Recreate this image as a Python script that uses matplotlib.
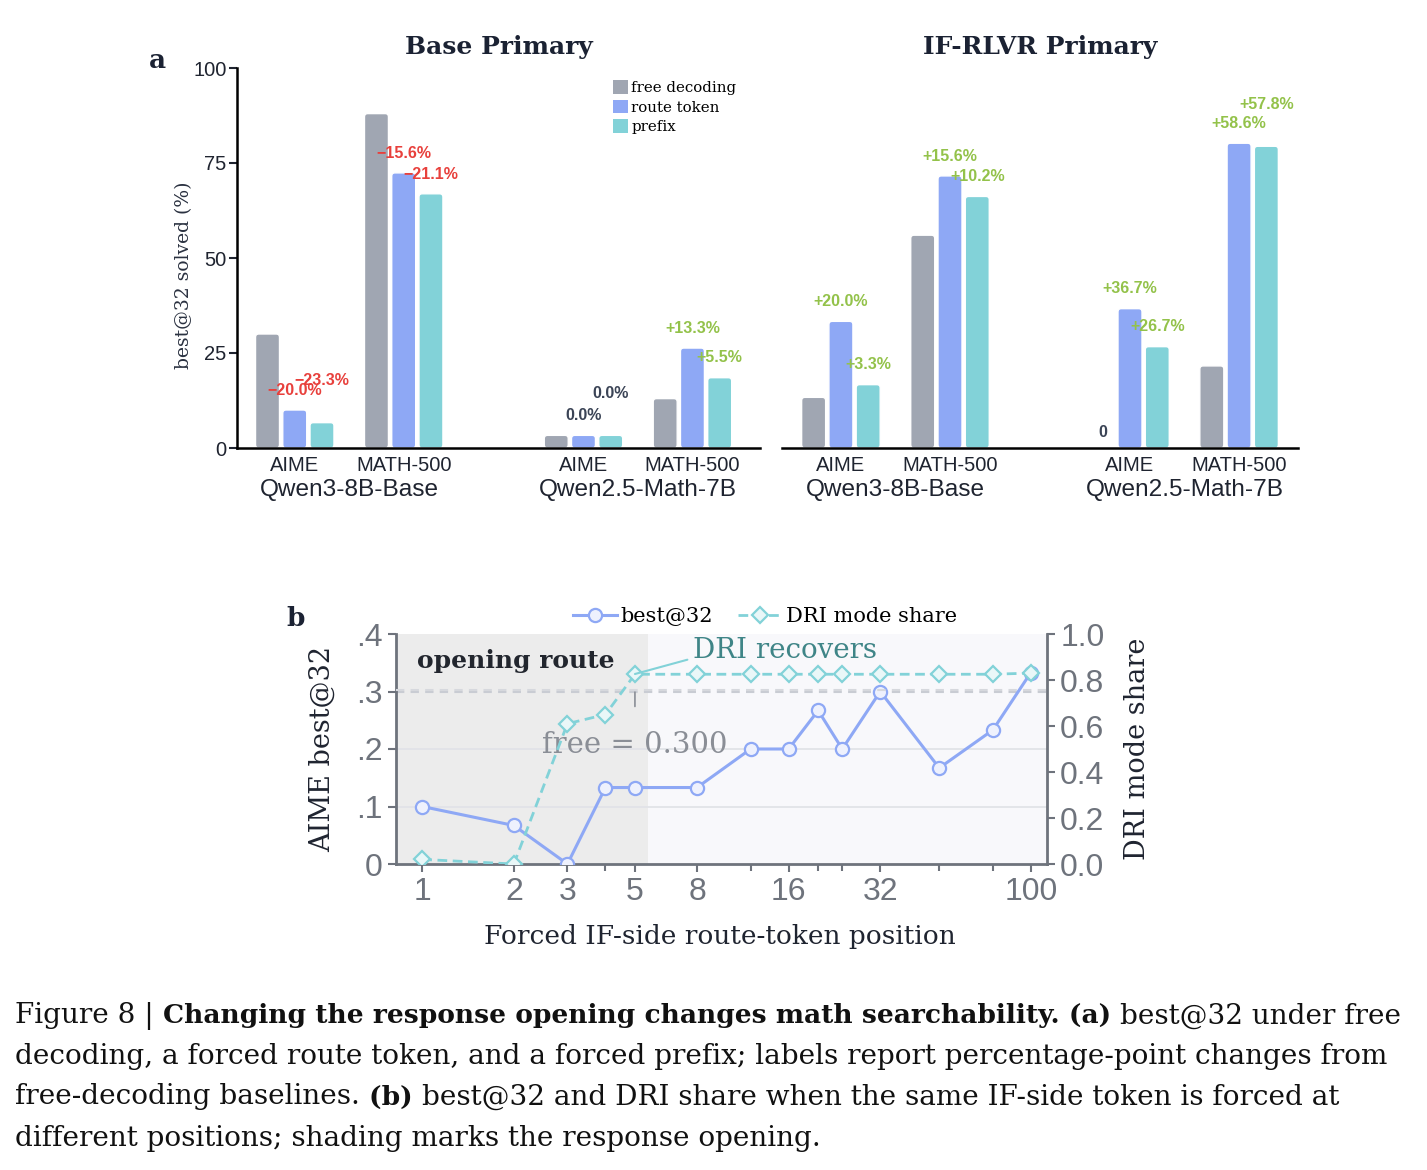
import matplotlib
matplotlib.use('Agg')
import matplotlib.pyplot as plt
from matplotlib.patches import FancyBboxPatch, Patch
from matplotlib.transforms import IdentityTransform
import numpy as np

SERIF = 'DejaVu Serif'
SANS = 'Liberation Sans'

# ---- panel a data ----
models = ['Qwen3-8B-Base', 'Qwen2.5-Math-7B']
benchmarks = ['AIME', 'MATH-500']
conditions = ['free decoding', 'route token', 'prefix']
# order: Qwen3 AIME, Qwen3 MATH-500, Qwen2.5 AIME, Qwen2.5 MATH-500
base_free = [30.0, 88.0, 3.33, 13.0]
base_route = [10.0, 72.4, 3.33, 26.3]
base_prefix = [6.67, 66.9, 3.33, 18.5]
iflr_free = [13.33, 56.0, 0.0, 21.6]
iflr_route = [33.33, 71.6, 36.67, 80.2]
iflr_prefix = [16.67, 66.2, 26.67, 79.4]

# ---- panel b data ----
positions = [1, 2, 3, 4, 5, 8, 12, 16, 20, 24, 32, 50, 75, 100]
best32 = [0.100, 0.067, 0.0, 0.133, 0.133, 0.133, 0.200, 0.200, 0.267, 0.200, 0.300, 0.167, 0.233, 0.333]
dri_share = [0.02, 0.0, 0.61, 0.65, 0.825, 0.825, 0.825, 0.825, 0.825, 0.825, 0.825, 0.825, 0.825, 0.83]
free_best32 = 0.300
free_dri = 0.757
labeled_ticks = [1, 2, 3, 5, 8, 16, 32, 100]
opening_end = 5.5

GRAY = '#a0a6b2'
BLUE = '#8ea8f5'
TEAL = '#82d2d8'
RED = '#e8403c'
GREEN = '#93c24a'
DARK = '#3b4456'
AXGRAY = '#6e737c'

W, H = 1427, 1170
fig = plt.figure(figsize=(W / 100, H / 100), dpi=100)


def px_axes(x0, y0, x1, y1):
    return fig.add_axes([x0 / W, 1 - y1 / H, (x1 - x0) / W, (y1 - y0) / H])


group_x = np.array([0, 1, 2.65, 3.65])
bar_colors = [GRAY, BLUE, TEAL]


def draw_panel(ax, free, route, prefix, title, xlim):
    ax.set_xlim(*xlim)
    ax.set_ylim(0, 100)
    pos = ax.get_position()
    asp = (100 / (pos.height * H)) / ((xlim[1] - xlim[0]) / (pos.width * W))
    step, width = 0.25, 0.22
    for k, vals in enumerate([free, route, prefix]):
        bars = ax.bar(group_x + (k - 1) * step, vals, width, color=bar_colors[k])
        for b in bars:
            b.set_visible(False)
            if b.get_height() <= 0:
                continue
            ax.add_patch(FancyBboxPatch((b.get_x(), 0), b.get_width(), b.get_height(),
                                        boxstyle='round,pad=0,rounding_size=0.03',
                                        mutation_aspect=asp, fc=bar_colors[k],
                                        ec='white', lw=1.0, zorder=2))
    # change labels vs free decoding
    for i in range(4):
        if free[i] == 0:
            ax.text(group_x[i] - step, 4.2, '0', ha='center', va='center',
                    fontsize=11.5, fontweight='bold', family=SANS, color=DARK)
        for k, vals in [(1, route), (2, prefix)]:
            d = vals[i] - free[i]
            y = vals[i] + 5.2
            if k == 2 and abs(route[i] - prefix[i]) < 5:
                y = prefix[i] + 11
            if abs(d) < 0.05:
                s, c = '0.0%', DARK
            else:
                s = f'{d:+.1f}%'.replace('-', '\u2212')
                c = RED if d < 0 else GREEN
            ax.text(group_x[i] + (k - 1) * step, y, s, ha='center', va='center',
                    fontsize=11.5, fontweight='bold', family=SANS, color=c, zorder=3)
    ax.set_xticks(group_x)
    ax.set_xticklabels(benchmarks * 2, fontsize=14.5, family=SANS, color='#1f2430')
    ax.tick_params(axis='x', length=0, pad=6)
    for j, m in enumerate(models):
        ax.text(group_x[2 * j:2 * j + 2].mean(), -0.11, m, transform=ax.get_xaxis_transform(),
                ha='center', va='center', fontsize=17.6, family=SANS, color='#1f2430')
    ax.text(0.5, 1 + 21 / 380, title, transform=ax.transAxes, ha='center', va='center',
            fontsize=18, fontweight='bold', family=SERIF, color='#1b2233')
    for s in ['top', 'right']:
        ax.spines[s].set_visible(False)
    ax.spines['bottom'].set_linewidth(1.8)
    ax.spines['left'].set_linewidth(1.8)
    ax.set_facecolor('none')


axL = px_axes(237, 68, 760, 448)
draw_panel(axL, base_free, base_route, base_prefix, 'Base Primary', (-0.53, 4.27))
axL.set_yticks([0, 25, 50, 75, 100])
axL.tick_params(axis='y', labelsize=14.5, length=6, width=1.5, colors='#1f2430', pad=1.5)
for t in axL.get_yticklabels():
    t.set_family(SANS)
axL.set_ylabel('best@32 solved (%)', family=SERIF, fontsize=13.5, color='#2a3140')
axL.yaxis.set_label_coords(-0.084, 0.455)
handles = [Patch(fc=c, ec='none') for c in bar_colors]
axL.legend(handles, conditions, loc='upper left', bbox_to_anchor=(0.698, 0.995), frameon=False,
           prop={'family': SERIF, 'size': 10.8}, handlelength=1.0, handleheight=1.0,
           handletextpad=0.25, labelspacing=0.3, borderpad=0.2)

axR = px_axes(782, 68, 1298, 448)
draw_panel(axR, iflr_free, iflr_route, iflr_prefix, 'IF-RLVR Primary', (-0.54, 4.19))
axR.spines['left'].set_visible(False)
axR.set_yticks([])

fig.text(157 / W, 1 - 60 / H, 'a', fontsize=19, fontweight='bold', family=SERIF,
         ha='center', va='center', color='#1b2233')
fig.text(296 / W, 1 - 618 / H, 'b', fontsize=19, fontweight='bold', family=SERIF,
         ha='center', va='center', color='#1b2233')

# ---- panel b ----
ax = px_axes(396, 634, 1047, 864)
ax2 = ax.twinx()
ax.set_xscale('log')
ax.set_xlim(0.82, 113)
ax.set_ylim(0, 0.4)
ax2.set_ylim(0, 1.0)
ax.set_facecolor('#f8f8fb')
ax.axvspan(0.82, opening_end, color='#ececec', lw=0, zorder=0)
for g in [0.1, 0.2]:
    ax.axhline(g, color='#e1e3e8', lw=1.3, zorder=1)
ax.axhline(free_best32, color='#c9ccd3', lw=1.5, ls=(0, (4, 3)), zorder=1)
ax2.axhline(free_dri, color='#d6d8dd', lw=1.5, ls=(0, (4, 3)), zorder=1)

l1, = ax.plot(positions, best32, color=BLUE, lw=2.2, marker='o', ms=9.5,
              mfc='#eef1fd', mec=BLUE, mew=1.6, zorder=3, label='best@32')
l2, = ax2.plot(positions, dri_share, color=TEAL, lw=2.0, ls=(0, (3.5, 2)), marker='D', ms=8,
               mfc='#e9f7f8', mec=TEAL, mew=1.6, zorder=3, label='DRI mode share')

ax.set_xticks(labeled_ticks)
ax.set_xticklabels([str(v) for v in labeled_ticks])
ax.set_xticks([p for p in positions if p not in labeled_ticks], minor=True)
ax.xaxis.set_minor_formatter(plt.NullFormatter())
ax.set_yticks([0, 0.1, 0.2, 0.3, 0.4])
ax.set_yticklabels(['0', '.1', '.2', '.3', '.4'])
ax2.set_yticks([0, 0.2, 0.4, 0.6, 0.8, 1.0])
ax2.set_yticklabels(['0.0', '0.2', '0.4', '0.6', '0.8', '1.0'])
for a in (ax, ax2):
    a.tick_params(which='both', labelsize=23, colors=AXGRAY, width=1.5, length=6)
    a.tick_params(which='minor', length=5)
    for t in a.get_xticklabels() + a.get_yticklabels():
        t.set_family(SANS)
    for s in a.spines.values():
        s.set_color(AXGRAY)
        s.set_linewidth(2)
    a.spines['top'].set_visible(False)
ax2.spines['left'].set_visible(False)
ax2.spines['bottom'].set_visible(False)
ax.spines['right'].set_visible(False)

ax.set_xlabel('Forced IF-side route-token position', family=SERIF, fontsize=19, color='#1f2430')
ax.xaxis.set_label_coords(0.498, -0.262)
ax.set_ylabel('AIME best@32', family=SERIF, fontsize=19.5, color='#1f2430')
ax.yaxis.set_label_coords(-0.093, 0.5)
ax2.set_ylabel('DRI mode share', family=SERIF, fontsize=19.5, color='#1f2430', rotation=90)
ax2.yaxis.set_label_coords(1.118, 0.5)

ax.text(0.963, 0.353, 'opening route', ha='left', va='center', fontsize=18,
        fontweight='bold', family=SERIF, color='#22262e', zorder=4)
ax2.annotate('DRI recovers', xy=(5.0, 0.826), xytext=(7.75, 0.93), ha='left', va='center',
             fontsize=20, family=SERIF, color='#3f8587', zorder=4,
             arrowprops=dict(arrowstyle='-', color=TEAL, lw=1.5, relpos=(0, 0.2),
                             shrinkA=2, shrinkB=0))
ax.text(5.0, 0.207, 'free = 0.300', ha='center', va='center', fontsize=21, family=SERIF,
        color='#8a8e96', zorder=4)
ax.annotate('', xy=(5.0, 0.299), xytext=(5.0, 0.274),
            arrowprops=dict(arrowstyle='-', color='#8a8e96', lw=1.2, shrinkA=0, shrinkB=0))
ax.legend([l1, l2], ['best@32', 'DRI mode share'], loc='center', bbox_to_anchor=(0.567, 1.075),
          ncol=2, frameon=False, prop={'family': SERIF, 'size': 15}, handlelength=2.1,
          handletextpad=0.2, columnspacing=1.2)

# ---- caption ----
caption = [
    [('Figure 8 | ', 'normal'), ('Changing the response opening changes math searchability. (a) ', 'bold'),
     ('best@32 under free', 'normal')],
    [('decoding, a forced route token, and a forced prefix; labels report percentage-point changes from',
      'normal')],
    [('free-decoding baselines. ', 'normal'), ('(b) ', 'bold'),
     ('best@32 and DRI share when the same IF-side token is forced at', 'normal')],
    [('different positions; shading marks the response opening.', 'normal')],
]
line_y = [1016, 1057, 1097, 1138]
renderer = fig.canvas.get_renderer()


def text_w(s, size, weight):
    t = fig.text(0, 0, s, fontsize=size, fontweight=weight, family=SERIF, transform=IdentityTransform())
    w = t.get_window_extent(renderer).width
    t.remove()
    return w


probe = 20
cap_size = probe * 1371 / text_w(caption[1][0][0], probe, 'normal')
bold_size = cap_size * 0.95
for runs, yy in zip(caption, line_y):
    x = 15
    for s, wt in runs:
        sz = bold_size if wt == 'bold' else cap_size
        fig.text(x, H - yy, s, fontsize=sz, fontweight=wt, family=SERIF, ha='left', va='center',
                 color='#111111', transform=IdentityTransform())
        core = s.rstrip(' ')
        n_sp = len(s) - len(core)
        sp = text_w('x x', sz, wt) - text_w('xx', sz, wt)
        x += text_w(core, sz, wt) + n_sp * sp

fig.savefig('out.png', dpi=100)
